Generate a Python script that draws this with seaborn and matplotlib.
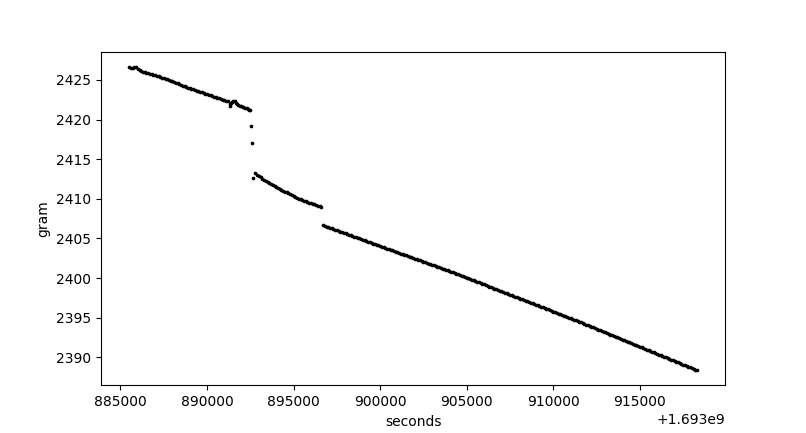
import matplotlib
matplotlib.use("Agg")
import matplotlib.pyplot as plt
import seaborn as sns
import pandas as pd

# offset of the timestamps (epoch seconds)
t_offset = 1693000000

# first run, before the drop
seg1_t = [885500, 885600, 885700, 885800, 885900, 886000, 886100, 886200, 886300, 886400,
          886500, 886600, 886700, 886800, 886900, 887000, 887100, 887200, 887300, 887400,
          887500, 887600, 887700, 887800, 887900, 888000, 888100, 888200, 888300, 888400,
          888500, 888600, 888700, 888800, 888900, 889000, 889100, 889200, 889300, 889400,
          889500, 889600, 889700, 889800, 889900, 890000, 890100, 890200, 890300, 890400,
          890500, 890600, 890700, 890800, 890900, 891000, 891100, 891200, 891300, 891350,
          891400, 891450, 891500, 891600, 891700, 891750, 891800, 891900, 891950, 892050,
          892100, 892200, 892300, 892350, 892420, 892470]
seg1_w = [2426.62, 2426.55, 2426.50, 2426.62, 2426.58, 2426.38, 2426.22, 2426.13, 2426.05, 2425.98,
          2425.92, 2425.86, 2425.80, 2425.74, 2425.68, 2425.60, 2425.52, 2425.45, 2425.38, 2425.30,
          2425.22, 2425.15, 2425.07, 2424.98, 2424.90, 2424.82, 2424.74, 2424.66, 2424.58, 2424.48,
          2424.38, 2424.29, 2424.20, 2424.12, 2424.04, 2423.96, 2423.88, 2423.80, 2423.72, 2423.65,
          2423.58, 2423.50, 2423.42, 2423.34, 2423.26, 2423.19, 2423.12, 2423.05, 2422.98, 2422.91,
          2422.84, 2422.76, 2422.68, 2422.60, 2422.52, 2422.45, 2422.38, 2422.28, 2421.95, 2421.75,
          2422.10, 2422.25, 2422.28, 2422.30, 2422.12, 2422.02, 2421.85, 2421.70, 2421.66, 2421.58,
          2421.55, 2421.48, 2421.40, 2421.35, 2421.25, 2421.18]

# isolated readings during the drop
drop_t = [892520, 892580, 892640]
drop_w = [2419.25, 2417.00, 2412.60]

# second run
seg2_t = [892760, 892880, 893000, 893100, 893200, 893300, 893400, 893500, 893600, 893700,
          893800, 893900, 894000, 894100, 894200, 894300, 894400, 894500, 894600, 894700,
          894800, 894900, 895000, 895100, 895200, 895300, 895400, 895500, 895600, 895700,
          895800, 895900, 896000, 896100, 896200, 896300, 896400, 896500, 896600]
seg2_w = [2413.20, 2413.02, 2412.85, 2412.70, 2412.55, 2412.38, 2412.22, 2412.08, 2411.95, 2411.83,
          2411.72, 2411.62, 2411.52, 2411.36, 2411.20, 2411.09, 2410.98, 2410.89, 2410.80, 2410.71,
          2410.62, 2410.48, 2410.35, 2410.22, 2410.10, 2410.01, 2409.92, 2409.83, 2409.75, 2409.66,
          2409.58, 2409.50, 2409.42, 2409.35, 2409.28, 2409.20, 2409.12, 2409.06, 2409.00]

# third run
seg3_t = [896700, 896800, 896900, 897000, 897100, 897200, 897300, 897400, 897500, 897600,
          897700, 897800, 897900, 898000, 898100, 898200, 898300, 898400, 898500, 898600,
          898700, 898800, 898900, 899000, 899100, 899200, 899300, 899400, 899500, 899600,
          899700, 899800, 899900, 900000, 900100, 900200, 900300, 900400, 900500, 900600,
          900700, 900800, 900900, 901000, 901100, 901200, 901300, 901400, 901500, 901600,
          901700, 901800, 901900, 902000, 902100, 902200, 902300, 902400, 902500, 902600,
          902700, 902800, 902900, 903000, 903100, 903200, 903300, 903400, 903500, 903600,
          903700, 903800, 903900, 904000, 904100, 904200, 904300, 904400, 904500, 904600,
          904700, 904800, 904900, 905000, 905100, 905200, 905300, 905400, 905500, 905600,
          905700, 905800, 905900, 906000, 906100, 906200, 906300, 906400, 906500, 906600,
          906700, 906800, 906900, 907000, 907100, 907200, 907300, 907400, 907500, 907600,
          907700, 907800, 907900, 908000, 908100, 908200, 908300, 908400, 908500, 908600,
          908700, 908800, 908900, 909000, 909100, 909200, 909300, 909400, 909500, 909600,
          909700, 909800, 909900, 910000, 910100, 910200, 910300, 910400, 910500, 910600,
          910700, 910800, 910900, 911000, 911100, 911200, 911300, 911400, 911500, 911600,
          911700, 911800, 911900, 912000, 912100, 912200, 912300, 912400, 912500, 912600,
          912700, 912800, 912900, 913000, 913100, 913200, 913300, 913400, 913500, 913600,
          913700, 913800, 913900, 914000, 914100, 914200, 914300, 914400, 914500, 914600,
          914700, 914800, 914900, 915000, 915100, 915200, 915300, 915400, 915500, 915600,
          915700, 915800, 915900, 916000, 916100, 916200, 916300, 916400, 916500, 916600,
          916700, 916800, 916900, 917000, 917100, 917200, 917300, 917400, 917500, 917600,
          917700, 917800, 917900, 918000, 918100, 918200, 918300]
seg3_w = [2406.65, 2406.57, 2406.49, 2406.41, 2406.33, 2406.25, 2406.18, 2406.10, 2406.02, 2405.94,
          2405.86, 2405.78, 2405.70, 2405.62, 2405.54, 2405.46, 2405.38, 2405.30, 2405.23, 2405.15,
          2405.07, 2404.99, 2404.91, 2404.83, 2404.75, 2404.67, 2404.59, 2404.51, 2404.43, 2404.35,
          2404.28, 2404.20, 2404.12, 2404.04, 2403.96, 2403.88, 2403.80, 2403.72, 2403.64, 2403.56,
          2403.48, 2403.40, 2403.33, 2403.25, 2403.17, 2403.09, 2403.01, 2402.93, 2402.85, 2402.77,
          2402.69, 2402.61, 2402.53, 2402.45, 2402.38, 2402.30, 2402.22, 2402.14, 2402.06, 2401.98,
          2401.90, 2401.82, 2401.74, 2401.66, 2401.58, 2401.50, 2401.43, 2401.35, 2401.27, 2401.19,
          2401.11, 2401.03, 2400.95, 2400.87, 2400.79, 2400.71, 2400.63, 2400.55, 2400.46, 2400.38,
          2400.29, 2400.21, 2400.12, 2400.04, 2399.95, 2399.87, 2399.78, 2399.70, 2399.61, 2399.53,
          2399.44, 2399.36, 2399.27, 2399.19, 2399.10, 2399.01, 2398.92, 2398.84, 2398.75, 2398.67,
          2398.58, 2398.50, 2398.41, 2398.33, 2398.24, 2398.16, 2398.07, 2397.99, 2397.90, 2397.82,
          2397.73, 2397.65, 2397.56, 2397.48, 2397.39, 2397.31, 2397.22, 2397.14, 2397.05, 2396.97,
          2396.88, 2396.80, 2396.71, 2396.63, 2396.54, 2396.46, 2396.37, 2396.29, 2396.20, 2396.12,
          2396.03, 2395.95, 2395.86, 2395.77, 2395.68, 2395.60, 2395.51, 2395.43, 2395.34, 2395.26,
          2395.17, 2395.09, 2395.00, 2394.92, 2394.83, 2394.75, 2394.66, 2394.57, 2394.48, 2394.39,
          2394.30, 2394.21, 2394.12, 2394.03, 2393.94, 2393.85, 2393.76, 2393.67, 2393.58, 2393.49,
          2393.40, 2393.31, 2393.22, 2393.13, 2393.04, 2392.95, 2392.86, 2392.77, 2392.68, 2392.59,
          2392.50, 2392.41, 2392.32, 2392.23, 2392.14, 2392.05, 2391.96, 2391.87, 2391.78, 2391.69,
          2391.60, 2391.51, 2391.42, 2391.33, 2391.24, 2391.15, 2391.06, 2390.97, 2390.88, 2390.79,
          2390.70, 2390.61, 2390.52, 2390.43, 2390.34, 2390.25, 2390.16, 2390.07, 2389.98, 2389.89,
          2389.80, 2389.71, 2389.62, 2389.53, 2389.44, 2389.35, 2389.26, 2389.17, 2389.08, 2388.99,
          2388.90, 2388.81, 2388.72, 2388.63, 2388.54, 2388.45, 2388.36]

tiempos = seg1_t + drop_t + seg2_t + seg3_t
pesos = seg1_w + drop_w + seg2_w + seg3_w
df = pd.DataFrame({"seconds": [t + t_offset for t in tiempos], "gram": pesos})

fig, ax = plt.subplots(figsize=(8.06, 4.33), dpi=100)
sns.scatterplot(data=df, x="seconds", y="gram", color="black", s=7, linewidth=0, ax=ax)
ax.set_xlabel("seconds")
ax.set_ylabel("gram")

fig.savefig("out.png", dpi=100)
